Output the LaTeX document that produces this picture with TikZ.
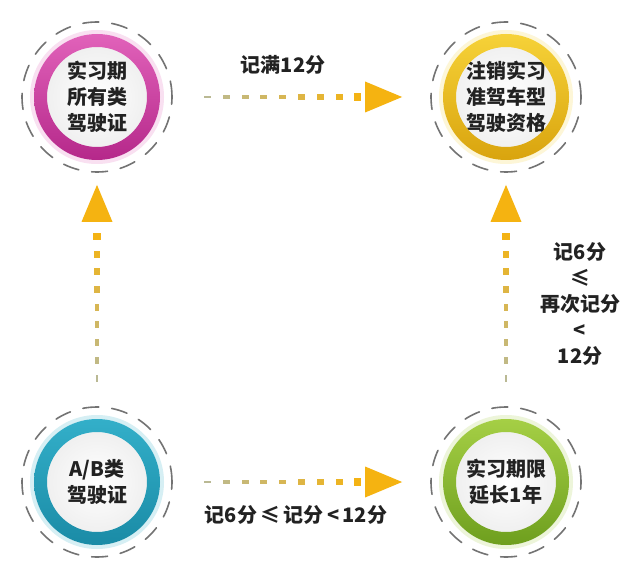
\documentclass[tikz,border=0pt]{standalone}
\usepackage{fontspec}
\setmainfont{Noto Sans CJK SC}
\usepackage{tikz}
\usetikzlibrary{shapes.geometric}

\definecolor{pinkL}{HTML}{E162BA}
\definecolor{pinkD}{HTML}{B5288A}
\definecolor{yellowL}{HTML}{F6D238}
\definecolor{yellowD}{HTML}{D9A40E}
\definecolor{blueL}{HTML}{33AFC9}
\definecolor{blueD}{HTML}{1A8BA6}
\definecolor{greenL}{HTML}{A5CF45}
\definecolor{greenD}{HTML}{6E9F1E}
\definecolor{textcolor}{HTML}{222222}

\begin{document}
\begin{tikzpicture}
		[x=1pt,y=-1pt,line cap=round,
		%Styles
		main node/.style={circle,inner sep=0pt,minimum size=100pt,inner color=white,outer color=black!6,
			align=center,text=textcolor,font=\fontsize{20}{26}\selectfont\bfseries},
		dashed ring/.style={draw=black!55,line width=1.6pt,dash pattern=on 16pt off 13pt},
		dash piece/.style={rectangle,inner sep=0pt,minimum width=7pt,sloped,allow upside down},
		arrow head/.style={isosceles triangle,isosceles triangle stretches,minimum width=31pt,minimum height=37pt,
			inner sep=0pt,fill=arrowcolor,sloped,allow upside down,anchor=west},
		label text/.style={align=center,text=textcolor,font=\fontsize{20}{26}\selectfont\bfseries}
		]
		
		%Colors
		\definecolor{arrowcolor}{HTML}{F5B311}	%arrow heads
		\definecolor{dashgrey}{HTML}{B3BAA3}	%faint end of the dashes
		
		\fill[white] (0,0) rectangle (629,577);
		
		%The graphic
		\node[main node] (AllCls) at (97, 97) {实习期\\所有类\\驾驶证};
		\node[main node] (Cancel) at (506, 97) {注销实习\\准驾车型\\驾驶资格};
		\node[main node] (AB) at (97, 482) {A/B类\\驾驶证};
		\node[main node] (Extend) at (506, 482) {实习期限\\延长1年};
		
		\foreach \n/\cl/\cd in {AllCls/pinkL/pinkD, Cancel/yellowL/yellowD, AB/blueL/blueD, Extend/greenL/greenD}{
			\draw[\cl!20, line width=4pt] (\n.center) circle (65pt);
			\shade[even odd rule, top color=\cl, bottom color=\cd] (\n.center) circle (63pt) circle (50pt);
			\draw[dashed ring] (\n.center) circle (75pt);
		}
		
		\foreach \a/\b/\t in {AllCls/Cancel/0.655, AB/Extend/0.655, AB/AllCls/0.675, Extend/Cancel/0.675}{
			\foreach \i in {0,...,8}{
				\pgfmathsetmacro\s{0.27+0.046*\i}
				\pgfmathsetmacro\h{2.5+0.6*\i}
				\pgfmathtruncatemacro\p{10+11*\i}
				\path (\a.center) -- (\b.center)
					node[dash piece, pos=\s, minimum height=\h pt, fill=arrowcolor!\p!dashgrey] {};
			}
			\path (\a.center) -- (\b.center) node[arrow head, pos=\t] {};
		}
		
		\node[label text] (TopLbl) at (283, 65) {记满12分};
		\node[label text] (BotLbl) at (296, 515) {记6分\,≤\,记分\,<\,12分};
		\node[label text] (SideLbl) at (580, 304) {记6分\\≤\\再次记分\\<\\12分};
	\end{tikzpicture}
\end{document}
